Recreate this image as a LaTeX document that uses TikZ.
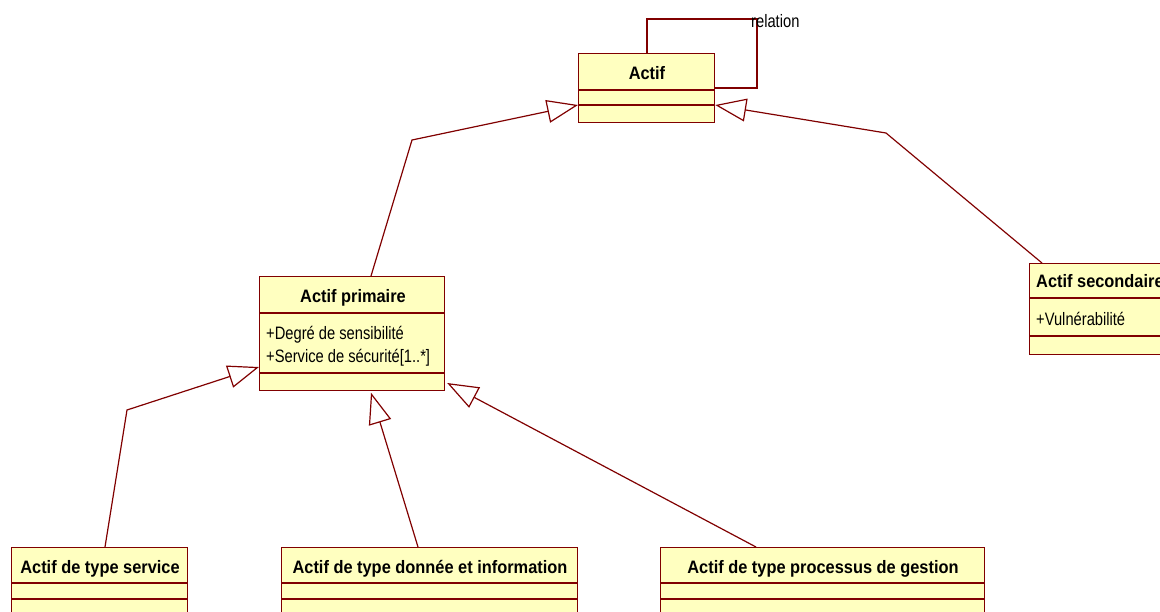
\documentclass[tikz,border=0pt]{standalone}
\usepackage{fontspec}
\setmainfont{Liberation Sans}[FakeStretch=0.817]
\newfontfamily\classtitlefont{Liberation Sans}[FakeStretch=0.91]
\usetikzlibrary{arrows.meta,calc}
\definecolor{umlline}{RGB}{128,0,0}
\definecolor{umlfill}{RGB}{255,255,192}

\begin{document}
\begin{tikzpicture}[x=1pt,y=-1pt,
  classbox/.style={draw=umlline, fill=umlfill, line width=1.2pt, rectangle,
                   anchor=north west, inner sep=0pt},
  ctitle/.style={font=\classtitlefont\bfseries\fontsize{18}{21}\selectfont, text=black,
                 inner sep=0pt, anchor=base},
  attr/.style={font=\fontsize{18}{21}\selectfont, text=black,
               inner sep=0pt, anchor=base west},
  sep/.style={draw=umlline, line width=1.2pt},
  gen/.style={draw=umlline, line width=1.2pt, line join=miter,
              -{Triangle[open, length=31pt, width=23pt]}},
  assoc/.style={draw=umlline, line width=1.2pt}]

\useasboundingbox (0,0) rectangle (1160,611);
\clip (0,0) rectangle (1160,611);

% ---- classes ----
\node[classbox, minimum width=136pt, minimum height=69pt] (actif) at (578,53) {};
\draw[sep] ([yshift=-37pt]actif.north west) -- ([yshift=-37pt]actif.north east);
\draw[sep] ([yshift=-52pt]actif.north west) -- ([yshift=-52pt]actif.north east);
\node[ctitle] (actifT) at (647,79) {Actif};

\node[classbox, minimum width=185pt, minimum height=114pt] (prim) at (259,276) {};
\draw[sep] ([yshift=-37pt]prim.north west) -- ([yshift=-37pt]prim.north east);
\draw[sep] ([yshift=-97pt]prim.north west) -- ([yshift=-97pt]prim.north east);
\node[ctitle] (primT) at (353,302) {Actif primaire};
\node[attr] (primA1) at (266,339) {+Degré de sensibilité};
\node[attr] (primA2) at (266,362) {+Service de sécurité[1..*]};

\node[classbox, minimum width=160pt, minimum height=91pt] (sec) at (1029,263) {};
\draw[sep] ([yshift=-35pt]sec.north west) -- ([yshift=-35pt]sec.north east);
\draw[sep] ([yshift=-73pt]sec.north west) -- ([yshift=-73pt]sec.north east);
\node[ctitle, anchor=base west] (secT) at (1036,287) {Actif secondaire};
\node[attr] (secA1) at (1036,325) {+Vulnérabilité};

\node[classbox, minimum width=176pt, minimum height=80pt] (serv) at (11,547) {};
\draw[sep] ([yshift=-36pt]serv.north west) -- ([yshift=-36pt]serv.north east);
\draw[sep] ([yshift=-52pt]serv.north west) -- ([yshift=-52pt]serv.north east);
\node[ctitle] (servT) at (100,573) {Actif de type service};

\node[classbox, minimum width=296pt, minimum height=80pt] (donn) at (281,547) {};
\draw[sep] ([yshift=-36pt]donn.north west) -- ([yshift=-36pt]donn.north east);
\draw[sep] ([yshift=-52pt]donn.north west) -- ([yshift=-52pt]donn.north east);
\node[ctitle] (donnT) at (430,573) {Actif de type donnée et information};

\node[classbox, minimum width=324pt, minimum height=80pt] (proc) at (660,547) {};
\draw[sep] ([yshift=-36pt]proc.north west) -- ([yshift=-36pt]proc.north east);
\draw[sep] ([yshift=-52pt]proc.north west) -- ([yshift=-52pt]proc.north east);
\node[ctitle] (procT) at (823,573) {Actif de type processus de gestion};

% ---- self association ----
\draw[assoc] ([xshift=69pt]actif.north west) |- (757,19) |- ([yshift=-35pt]actif.north east);
\node[attr] (rel) at (751,27) {relation};

% ---- generalisations ----
\draw[gen] ([xshift=112pt]prim.north west) -- (412,140) -- ([yshift=-52pt]actif.north west);
\draw[gen] ([xshift=13pt]sec.north west) -- (886,133) -- ([yshift=-52pt]actif.north east);
\draw[gen] ([xshift=94pt]serv.north west) -- (127,410) -- ([yshift=-91pt]prim.north west);
\draw[gen] ([xshift=137pt]donn.north west) -- ([xshift=112pt,yshift=-1.5pt]prim.south west);
\draw[gen] ([xshift=96pt]proc.north west) -- ([xshift=2pt,yshift=-107pt]prim.north east);
\end{tikzpicture}
\end{document}
